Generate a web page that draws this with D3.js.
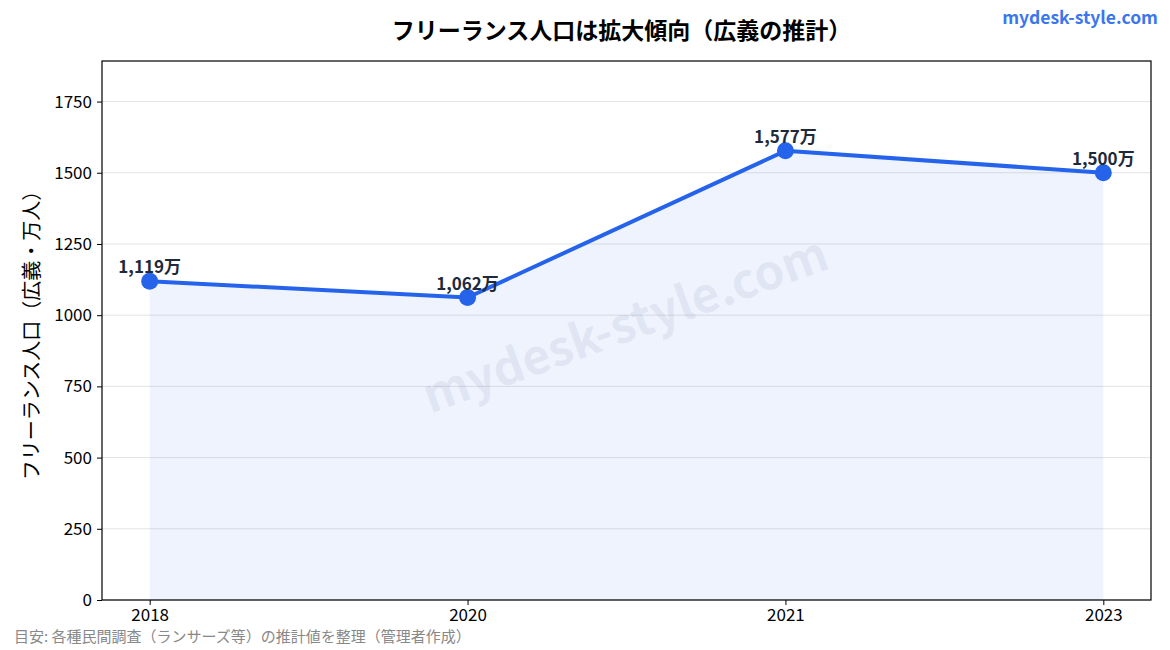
<!DOCTYPE html>
<html>
<head>
<meta charset="utf-8">
<script src="https://cdn.jsdelivr.net/npm/d3@7.9.0/dist/d3.min.js"></script>
<style>
  body { margin: 0; background: #fff; }
  svg { display: block; font-family: "Noto Sans CJK JP", "Noto Sans", sans-serif; }
</style>
</head>
<body>
<svg id="chart" width="1170" height="650"></svg>
<script>
// data
const years = ["2018", "2020", "2021", "2023"];
const population = [1119, 1062, 1577, 1500];
const valueLabels = ["1,119万", "1,062万", "1,577万", "1,500万"];
const yTicks = [0, 250, 500, 750, 1000, 1250, 1500, 1750];

const svg = d3.select("#chart");
const margin = { top: 61, right: 19, bottom: 50, left: 102 };
const width = 1170 - margin.left - margin.right;
const height = 650 - margin.top - margin.bottom;

const g = svg.append("g")
    .attr("transform", `translate(${margin.left},${margin.top})`);

const xScale = d3.scaleLinear().domain([-0.15, years.length - 1 + 0.15]).range([0, width]);
const yScale = d3.scaleLinear().domain([0, d3.max(population) * 1.2]).range([height, 0]);

// grid lines
g.append("g").selectAll("line")
    .data(yTicks)
    .enter().append("line")
    .attr("x1", 0).attr("x2", width)
    .attr("y1", d => yScale(d)).attr("y2", d => yScale(d))
    .attr("stroke", "#e3e3e6")
    .attr("stroke-width", 1);

// watermark
g.append("text")
    .attr("transform", `translate(${width / 2},${height / 2 - 2}) rotate(-20)`)
    .attr("text-anchor", "middle")
    .attr("dominant-baseline", "middle")
    .attr("font-size", 48)
    .attr("font-weight", "bold")
    .attr("fill", "#7f8aa6")
    .attr("fill-opacity", 0.12)
    .text("mydesk-style.com");

const pts = years.map((y, i) => ({ i, v: population[i], label: valueLabels[i] }));

// area fill
const areaGen = d3.area()
    .x(d => xScale(d.i))
    .y0(yScale(0))
    .y1(d => yScale(d.v));
g.append("path")
    .datum(pts)
    .attr("fill", "#2563eb")
    .attr("fill-opacity", 0.08)
    .attr("d", areaGen);

// line
const lineGen = d3.line()
    .x(d => xScale(d.i))
    .y(d => yScale(d.v));
g.append("path")
    .datum(pts)
    .attr("fill", "none")
    .attr("stroke", "#2563eb")
    .attr("stroke-width", 4)
    .attr("stroke-linejoin", "round")
    .attr("d", lineGen);

// markers
g.selectAll(".marker")
    .data(pts)
    .enter().append("circle")
    .attr("class", "marker")
    .attr("cx", d => xScale(d.i))
    .attr("cy", d => yScale(d.v))
    .attr("r", 8.5)
    .attr("fill", "#2563eb");

// value labels
g.selectAll(".vlabel")
    .data(pts)
    .enter().append("text")
    .attr("class", "vlabel")
    .attr("x", d => xScale(d.i))
    .attr("y", d => yScale(d.v) - 8)
    .attr("text-anchor", "middle")
    .attr("font-size", 17)
    .attr("font-weight", "bold")
    .attr("fill", "#1e293b")
    .text(d => d.label);

// axes
const xAxis = g.append("g")
    .attr("transform", `translate(0,${height})`)
    .call(d3.axisBottom(xScale).tickValues(years.map((y, i) => i)).tickFormat(i => years[i]).tickSize(5).tickPadding(4));
const yAxis = g.append("g")
    .call(d3.axisLeft(yScale).tickValues(yTicks).tickFormat(d3.format("d")).tickSize(5).tickPadding(5));
[xAxis, yAxis].forEach(a => {
    a.select(".domain").remove();
    a.selectAll("text").attr("font-size", 17).attr("fill", "#000").attr("font-family", "'Noto Sans CJK JP', sans-serif");
    a.selectAll("line").attr("stroke", "#000");
});

// frame
g.append("rect")
    .attr("width", width).attr("height", height)
    .attr("fill", "none")
    .attr("stroke", "#000")
    .attr("stroke-width", 1.2);

// y label
svg.append("text")
    .attr("transform", `translate(39,${margin.top + height / 2}) rotate(-90)`)
    .attr("text-anchor", "middle")
    .attr("font-size", 20)
    .attr("fill", "#000")
    .text("フリーランス人口（広義・万人）");

// title
svg.append("text")
    .attr("x", margin.left + width / 2 - 5)
    .attr("y", 39)
    .attr("text-anchor", "middle")
    .attr("font-size", 23)
    .attr("font-weight", "bold")
    .attr("fill", "#000")
    .text("フリーランス人口は拡大傾向（広義の推計）");

// site name
svg.append("text")
    .attr("x", 1158)
    .attr("y", 24)
    .attr("text-anchor", "end")
    .attr("font-size", 17.5)
    .attr("font-weight", "bold")
    .attr("fill", "#3b76ef")
    .text("mydesk-style.com");

// source note
svg.append("text")
    .attr("x", 14)
    .attr("y", 642)
    .attr("font-size", 15)
    .attr("fill", "#888")
    .text("目安: 各種民間調査（ランサーズ等）の推計値を整理（管理者作成）");
</script>
</body>
</html>
